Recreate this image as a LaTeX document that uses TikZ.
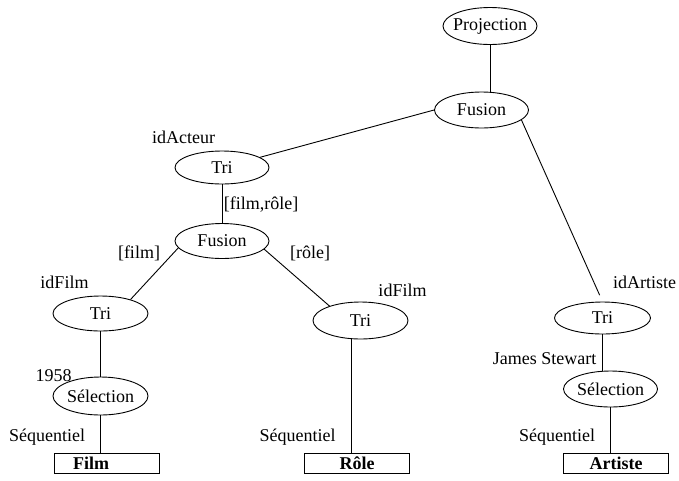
\documentclass[tikz,border=0pt]{standalone}
\usepackage{fontspec}
\setmainfont{Liberation Serif}
\usetikzlibrary{shapes.geometric}
\begin{document}
\begin{tikzpicture}[x=1pt,y=-1pt,
  every node/.style={font=\fontsize{18}{21}\selectfont},
  % operator ellipses: the negative inner sep lets the minimum size decide
  op/.style={draw, ellipse, line width=0.9pt, inner xsep=-30pt, inner ysep=-4pt,
    minimum width=94pt, minimum height=36pt},
  rel/.style={draw, rectangle, line width=0.9pt, inner sep=0pt,
    minimum width=105pt, minimum height=20pt,
    font=\fontsize{18}{21}\selectfont\bfseries},
  lab/.style={inner sep=0pt},
  link/.style={line width=0.9pt}]
\useasboundingbox (0,0) rectangle (679,480);

% operators
\node[op, minimum height=37pt] (proj) at (490,26) {Projection};
\node[op] (fus) at (481.5,110) {Fusion};
\node[op, minimum height=33pt] (tria) at (222,167.5) {Tri};
\node[op, minimum height=35pt] (fus2) at (222,241) {Fusion};
\node[op, minimum height=35pt, minimum width=95pt] (tril) at (100.5,313.5) {Tri};
\node[op, minimum height=38pt, minimum width=95pt] (sell) at (100.5,396) {Sélection};
\node[op, minimum height=37pt, minimum width=95pt] (trim) at (360.5,320.5) {Tri};
\node[op, minimum height=32pt, minimum width=96pt] (trir) at (602.5,318) {Tri};
\node[op] (selr) at (610.5,389) {Sélection};

% stored relations
\node[rel] (film) at (107,463) {Film\hspace*{32pt}};
\node[rel] (role) at (357,463) {Rôle};
\node[rel] (art) at (616,463) {Artiste};

% annotations
\node[lab] (lacteur) at (183.5,137) {idActeur};
\node[lab] (lfr) at (261,205) {[film,rôle]};
\node[lab] (lfilm) at (139,253) {[film]};
\node[lab] (lrole) at (310,253) {[rôle]};
\node[lab] (lidf1) at (64.5,282) {idFilm};
\node[lab] (l1958) at (53.5,376) {1958};
\node[lab] (lseq1) at (47,437) {Séquentiel};
\node[lab] (lidf2) at (402.5,290) {idFilm};
\node[lab] (lseq2) at (297.5,437) {Séquentiel};
\node[lab] (lida) at (644.5,282) {idArtiste};
\node[lab] (ljs) at (544.5,359) {James Stewart};
\node[lab] (lseq3) at (557,437) {Séquentiel};

% edges of the plan
\draw[link] (proj.south) -- (proj.south |- fus.north);
\draw[link] (fus.west) -- (tria.15);
\draw[link, shorten >=7pt] (fus.-14) -- (trir.north);
\draw[link] (tria.south) -- (fus2.north);
\draw[link] (fus2.189) -- (tril.25);
\draw[link] (fus2.-11) -- (trim.155);
\draw[link] (tril.south) -- (sell.north);
\draw[link] (sell.south) -- (sell.south |- film.north);
\draw[link] (trim.243) -- (trim.243 |- role.north);
\draw[link] (trir.south) -- (trir.south |- selr.north);
\draw[link] (selr.south) -- (selr.south |- art.north);
\end{tikzpicture}
\end{document}
